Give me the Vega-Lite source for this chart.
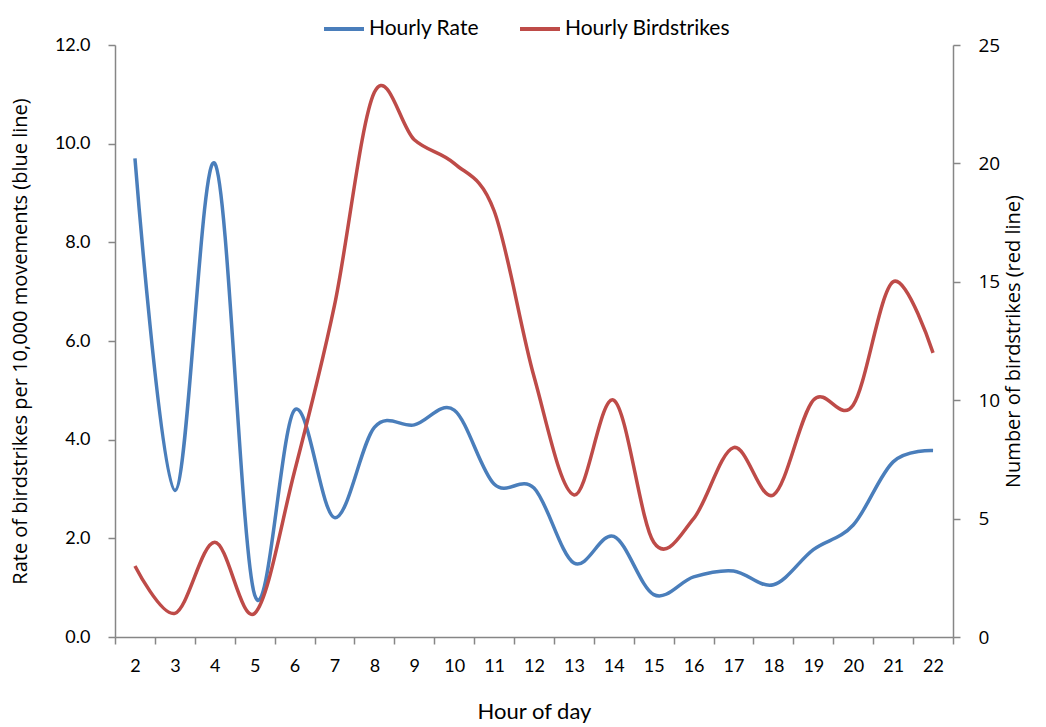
{
  "$schema": "https://vega.github.io/schema/vega-lite/v6.json",
  "width": 838,
  "height": 592,
  "padding": {"left": 115, "top": 45, "right": 93, "bottom": 90},
  "autosize": {"type": "none"},
  "background": "white",
  "config": {
    "view": {"stroke": null},
    "axis": {"grid": false, "domainColor": "#868686", "tickColor": "#868686", "labelColor": "#000000", "titleColor": "#000000", "domainWidth": 1.5, "tickWidth": 1.5, "tickSize": 7, "titleFontWeight": "normal"}
  },
  "data": {
    "values": [
      {"hour": 2, "rate": 9.7, "strikes": 3},
      {"hour": 3, "rate": 2.97, "strikes": 1},
      {"hour": 4, "rate": 9.6, "strikes": 4},
      {"hour": 5, "rate": 0.85, "strikes": 1},
      {"hour": 6, "rate": 4.6, "strikes": 7},
      {"hour": 7, "rate": 2.42, "strikes": 14},
      {"hour": 8, "rate": 4.25, "strikes": 23},
      {"hour": 9, "rate": 4.3, "strikes": 21},
      {"hour": 10, "rate": 4.6, "strikes": 20},
      {"hour": 11, "rate": 3.1, "strikes": 18},
      {"hour": 12, "rate": 3.02, "strikes": 11},
      {"hour": 13, "rate": 1.5, "strikes": 6},
      {"hour": 14, "rate": 2.04, "strikes": 10},
      {"hour": 15, "rate": 0.86, "strikes": 4},
      {"hour": 16, "rate": 1.22, "strikes": 5},
      {"hour": 17, "rate": 1.34, "strikes": 8},
      {"hour": 18, "rate": 1.06, "strikes": 6},
      {"hour": 19, "rate": 1.77, "strikes": 10},
      {"hour": 20, "rate": 2.27, "strikes": 9.8},
      {"hour": 21, "rate": 3.55, "strikes": 15},
      {"hour": 22, "rate": 3.78, "strikes": 12}
    ]
  },
  "encoding": {
    "x": {
      "field": "hour",
      "type": "ordinal",
      "bandPosition": 0.5,
      "scale": {"type": "band", "paddingInner": 0, "paddingOuter": 0},
      "axis": {"title": "Hour of day", "labelAngle": 0, "tickBand": "extent", "labelFont": "Lato", "labelFontSize": 18, "labelPadding": 13, "titleFont": "Lato", "titleFontSize": 22, "titlePadding": 26}
    }
  },
  "layer": [
    {
      "mark": {"type": "line", "interpolate": "cardinal", "strokeWidth": 3.5},
      "encoding": {
        "y": {
          "field": "rate",
          "type": "quantitative",
          "scale": {"domain": [0, 12]},
          "axis": {"orient": "left", "values": [0, 2, 4, 6, 8, 10, 12], "format": ".1f", "title": "Rate of birdstrikes per 10,000 movements (blue line)", "labelFont": "Lato", "labelFontSize": 18, "labelPadding": 18, "titleFont": "Open Sans", "titleFontSize": 20, "titlePadding": 24}
        },
        "color": {
          "datum": "Hourly Rate",
          "scale": {"domain": ["Hourly Rate", "Hourly Birdstrikes"], "range": ["#4A7EBB", "#BE4B48"]},
          "legend": {"title": null, "orient": "none", "direction": "horizontal", "legendX": 207, "legendY": -38, "symbolType": "stroke", "symbolSize": 1600, "symbolStrokeWidth": 4, "labelFont": "Lato", "labelFontSize": 21, "labelOffset": 3, "labelLimit": 0, "columnPadding": 33, "padding": 0}
        }
      }
    },
    {
      "mark": {"type": "line", "interpolate": "cardinal", "strokeWidth": 3.5},
      "encoding": {
        "y": {
          "field": "strikes",
          "type": "quantitative",
          "scale": {"domain": [0, 25]},
          "axis": {"orient": "right", "values": [0, 5, 10, 15, 20, 25], "title": "Number of birdstrikes (red line)", "titleAngle": 270, "labelFont": "Open Sans", "labelFontSize": 19, "labelPadding": 18, "titleFont": "Open Sans", "titleFontSize": 20, "titlePadding": 24}
        },
        "color": {"datum": "Hourly Birdstrikes"}
      }
    }
  ],
  "resolve": {"scale": {"y": "independent"}}
}
